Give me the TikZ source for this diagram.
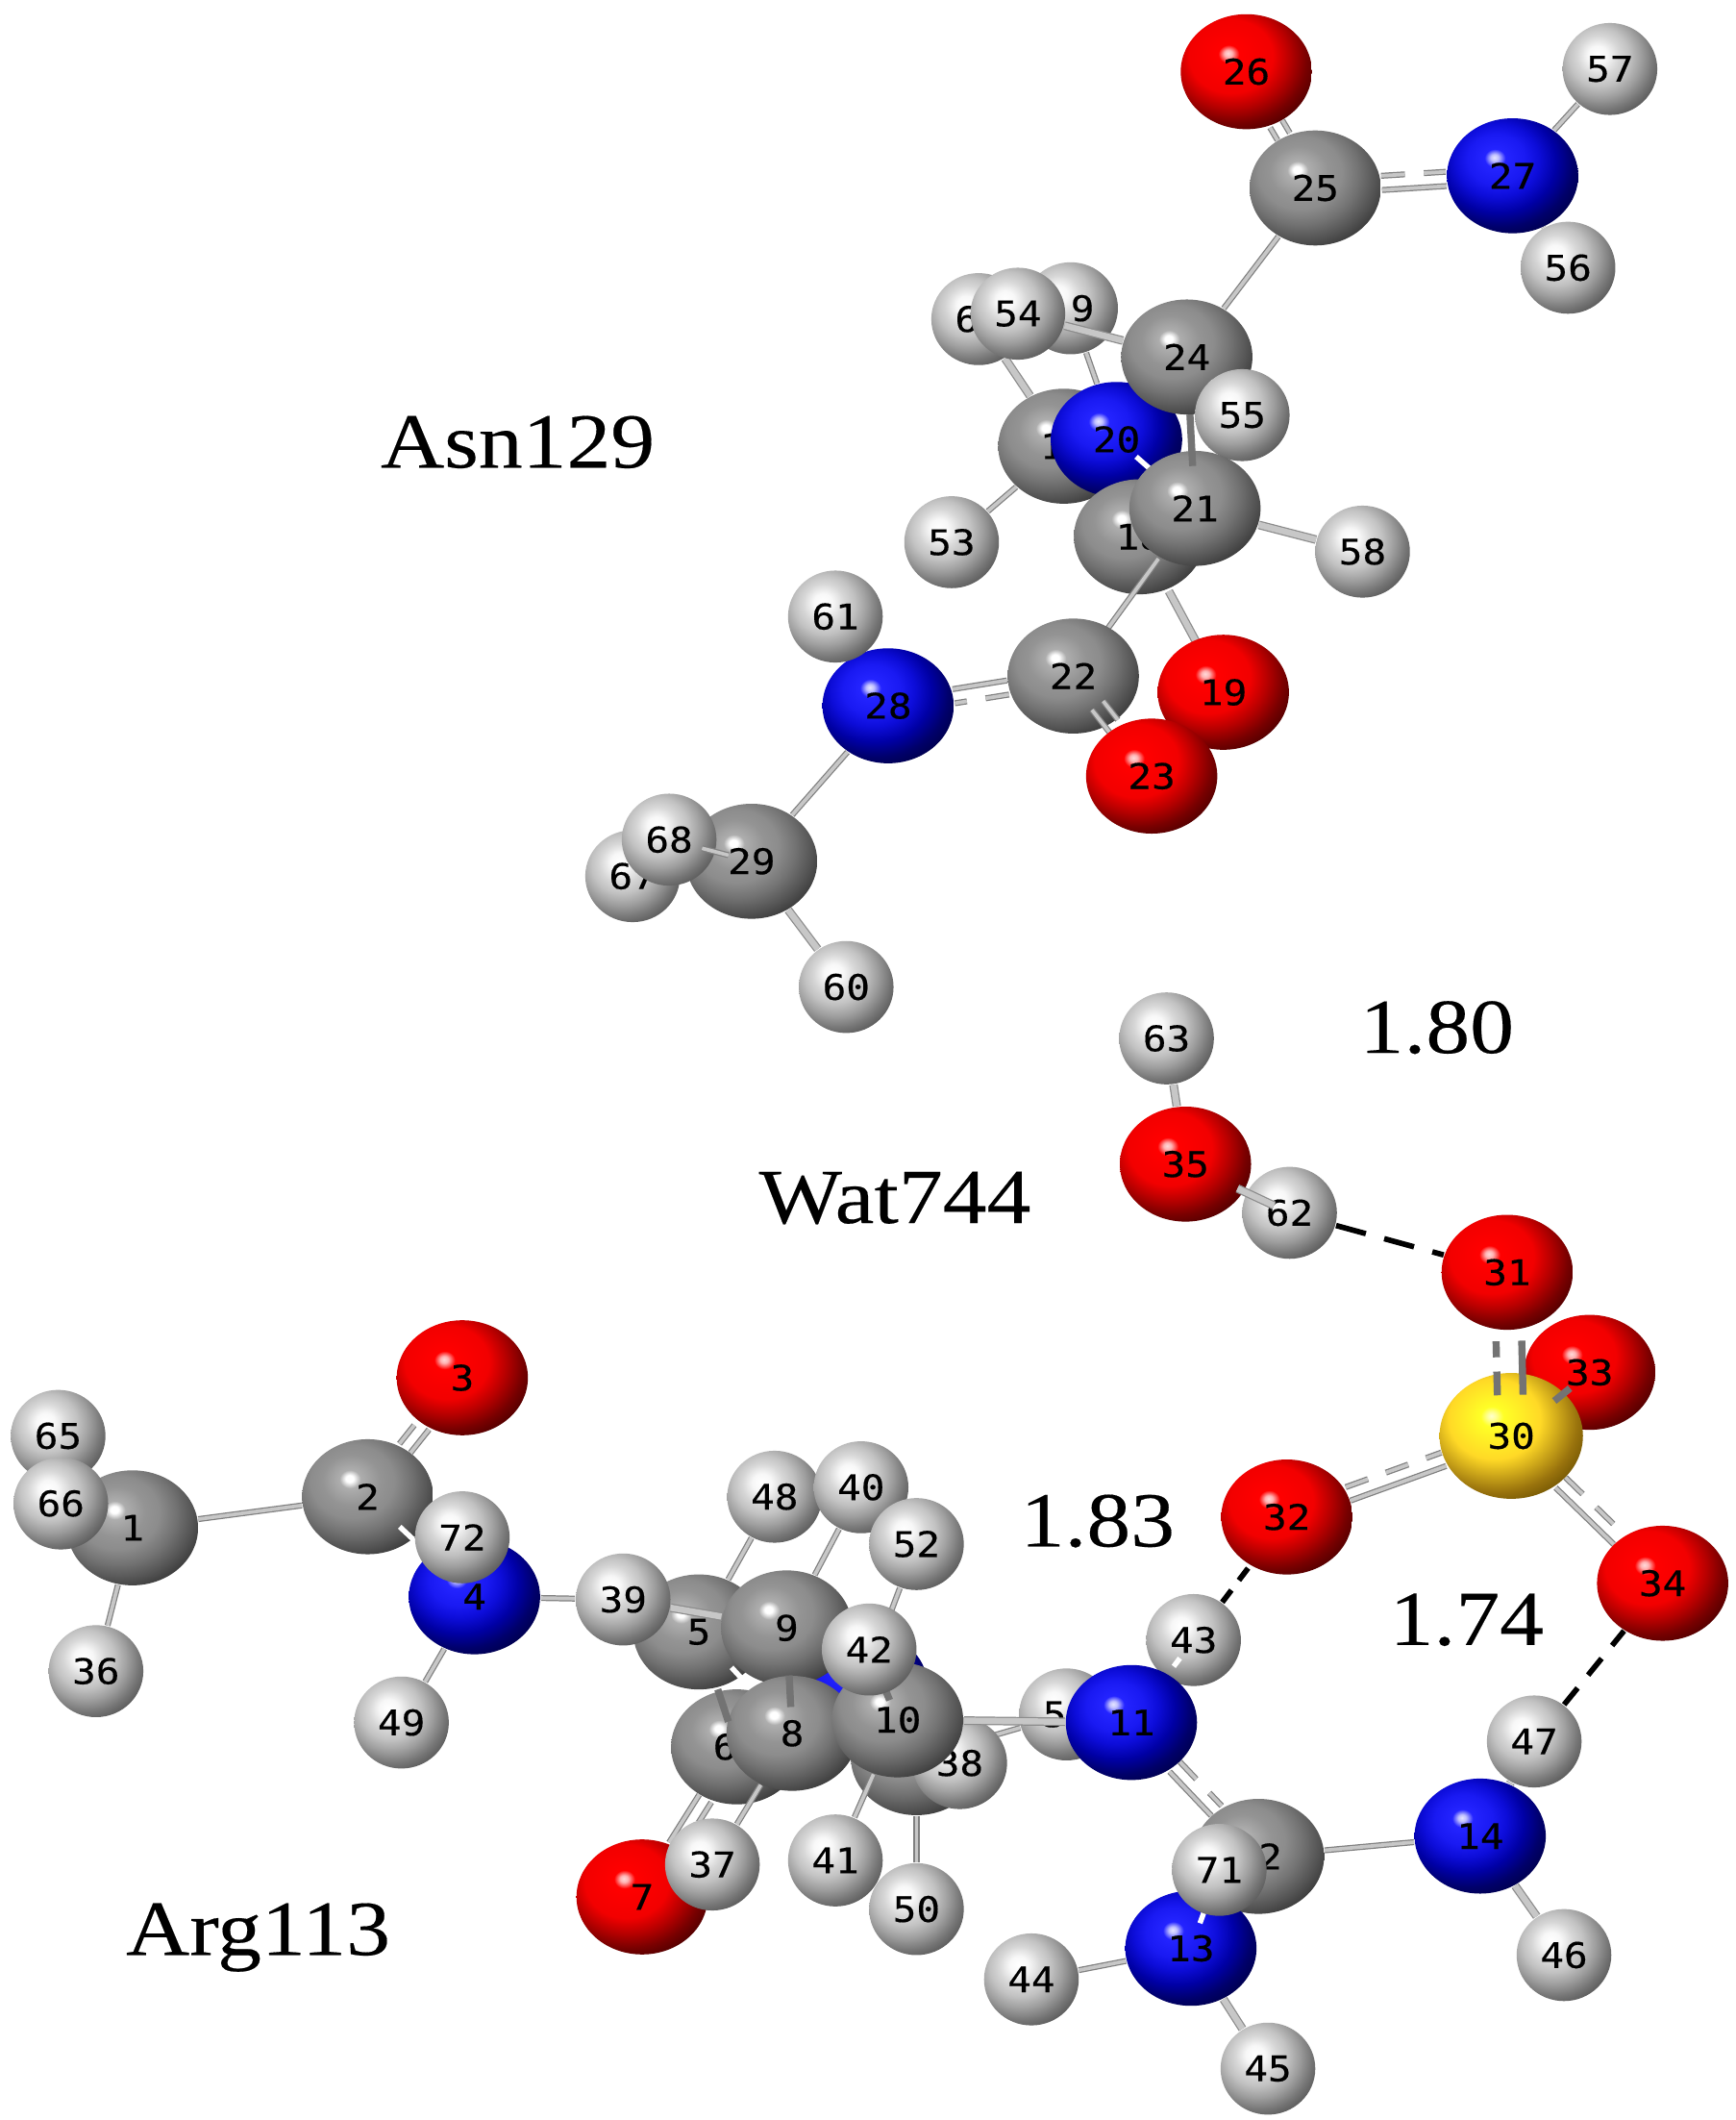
\documentclass[tikz,border=0pt]{standalone}
\usepackage{fontspec}
\usetikzlibrary{calc,shapes.geometric}
\newfontfamily\atomfont[FakeStretch=1.12,FakeBold=.35]{DejaVu Sans Mono}
\newfontfamily\capfont[FakeStretch=1.13,FakeBold=.2]{Liberation Serif}
\pgfdeclarelayer{bg}
\pgfdeclarelayer{l1}\pgfdeclarelayer{l2}\pgfdeclarelayer{l3}\pgfdeclarelayer{l4}\pgfdeclarelayer{l5}
\pgfdeclarelayer{l6}\pgfdeclarelayer{l7}\pgfdeclarelayer{l8}\pgfdeclarelayer{l9}\pgfdeclarelayer{l10}
\pgfsetlayers{bg,l1,l2,l3,l4,l5,l6,l7,l8,l9,l10,main}
\pgfdeclareradialshading{cball}{\pgfpoint{-7bp}{8bp}}{rgb(0bp)=(1,1,1);rgb(1.5bp)=(1,1,1);rgb(4bp)=(.68,.68,.68);rgb(11bp)=(.58,.58,.58);rgb(16bp)=(.55,.55,.55);rgb(22bp)=(.45,.45,.45);rgb(28bp)=(.33,.33,.33);rgb(35bp)=(.18,.18,.18);rgb(100bp)=(.18,.18,.18)}
\pgfdeclareradialshading{hball}{\pgfpoint{-7bp}{8bp}}{rgb(0bp)=(1,1,1);rgb(5bp)=(.97,.97,.97);rgb(11bp)=(.84,.84,.84);rgb(16bp)=(.76,.76,.76);rgb(22bp)=(.62,.62,.62);rgb(28bp)=(.46,.46,.46);rgb(35bp)=(.3,.3,.3);rgb(100bp)=(.3,.3,.3)}
\pgfdeclareradialshading{nball}{\pgfpoint{-7bp}{8bp}}{rgb(0bp)=(.9,.9,1);rgb(1.5bp)=(.75,.75,1);rgb(4bp)=(.14,.14,1);rgb(11bp)=(.1,.1,.95);rgb(16bp)=(.05,.05,.85);rgb(22bp)=(0,0,.65);rgb(28bp)=(0,0,.42);rgb(35bp)=(0,0,.25);rgb(100bp)=(0,0,.25)}
\pgfdeclareradialshading{oball}{\pgfpoint{-7bp}{8bp}}{rgb(0bp)=(1,.85,.85);rgb(1.5bp)=(1,.7,.7);rgb(4bp)=(1,0,0);rgb(16bp)=(.95,0,0);rgb(22bp)=(.72,0,0);rgb(28bp)=(.47,0,0);rgb(35bp)=(.25,0,0);rgb(100bp)=(.25,0,0)}
\pgfdeclareradialshading{sball}{\pgfpoint{-7bp}{8bp}}{rgb(0bp)=(1,1,.8);rgb(1.5bp)=(1,1,.6);rgb(4bp)=(1,1,.15);rgb(16bp)=(1,.85,.15);rgb(22bp)=(.8,.65,.1);rgb(28bp)=(.6,.45,.05);rgb(35bp)=(.4,.3,0);rgb(100bp)=(.4,.3,0)}
\tikzset{
  atomb/.style={ellipse,inner sep=0pt,font=\atomfont\fontsize{7.4}{8}\selectfont,text=black},
  catom/.style={atomb,shade,shading=cball,minimum width=.97cm,minimum height=.85cm},
  natom/.style={atomb,shade,shading=nball,minimum width=.97cm,minimum height=.85cm},
  oatom/.style={atomb,shade,shading=oball,minimum width=.97cm,minimum height=.85cm},
  satom/.style={atomb,shade,shading=sball,minimum width=1.06cm,minimum height=.93cm},
  hatom/.style={atomb,shade,shading=hball,minimum width=.70cm,minimum height=.68cm},
  bond/.style={draw=black!50,double=black!22,line width=.25pt,double distance=.75pt},
  thickbond/.style={draw=black!45,double=black!22,line width=.25pt,double distance=1.3pt},
  stub/.style={draw=white,line width=1.1pt},
  darkbond/.style={draw=black!55,line width=1.5pt},
  hbond/.style={draw=black,line width=1.15pt,dash pattern=on 6.5pt off 4pt},
  hbondmid/.style={hbond,dash pattern=on 4.5pt off 3.5pt},
  hbondshort/.style={hbond,dash pattern=on 3.2pt off 2.6pt},
  caption/.style={font=\capfont\fontsize{16.4}{18}\selectfont,text=black}
}
\newcommand\dA{1.3pt}
\newcommand\dB{1.7pt}
\newcommand\atom[6]{\begin{pgfonlayer}{l#1}\node[#5] (a#2) at (#3,#4) {#6};\end{pgfonlayer}}
\newcommand\lnk[4][bond]{\begin{pgfonlayer}{l#2}\draw[#1] (a#3) -- (a#4);\end{pgfonlayer}}
\newcommand\frag[6][bond]{\begin{pgfonlayer}{l#2}\draw[#1] ($(a#3.center)!#5!(a#4.center)$) -- ($(a#3.center)!#6!(a#4.center)$);\end{pgfonlayer}}
\newcommand\dlnk[3]{\begin{pgfonlayer}{l#1}\path (a#2) -- (a#3) coordinate[pos=0] (ts) coordinate[pos=1] (te);
  \draw[bond] ($(ts)!\dA!-90:(te)$) -- ($(te)!\dA!90:(ts)$);
  \draw[bond,dash pattern=on 5pt off 4pt] ($(ts)!\dB!90:(te)$) -- ($(te)!\dB!-90:(ts)$);\end{pgfonlayer}}
\newcommand\dfrag[6][bond]{\begin{pgfonlayer}{l#2}\coordinate (ts) at ($(a#3.center)!#5!(a#4.center)$);\coordinate (te) at ($(a#3.center)!#6!(a#4.center)$);
  \draw[#1] ($(ts)!\dA!-90:(te)$) -- ($(te)!\dA!90:(ts)$);
  \draw[#1,dash pattern=on 5pt off 3pt] ($(ts)!\dB!90:(te)$) -- ($(te)!\dB!-90:(ts)$);\end{pgfonlayer}}
\begin{document}
\begin{tikzpicture}[x=.01cm,y=-.01cm]
\useasboundingbox (0,0) rectangle (1284,1568);
\begin{pgfonlayer}{bg}\fill[white] (0,0) rectangle (1284,1568);\end{pgfonlayer}
% Asn129
\atom{9}{26}{922}{53}{oatom}{26}
\atom{9}{25}{973}{139}{catom}{25}
\atom{9}{27}{1119}{130}{natom}{27}
\atom{9}{57}{1191}{51}{hatom}{57}
\atom{9}{56}{1160}{198}{hatom}{56}
\atom{1}{59}{792}{228}{hatom}{\phantom{5}9}
\atom{1}{64}{724}{236}{hatom}{6\phantom{4}}
\atom{3}{54}{753}{232}{hatom}{54}
\atom{3}{17}{787}{330}{catom}{1\phantom{7}}
\atom{3}{53}{704}{401}{hatom}{53}
\atom{4}{20}{826}{325}{natom}{20}
\atom{5}{24}{878}{264}{catom}{24}
\atom{6}{55}{919}{307}{hatom}{55}
\atom{7}{18}{843}{397}{catom}{18}
\atom{8}{21}{884}{376}{catom}{21}
\atom{9}{58}{1008}{408}{hatom}{58}
\atom{9}{22}{794}{500}{catom}{22}
\atom{9}{19}{905}{512}{oatom}{19}
\atom{10}{23}{852}{574}{oatom}{23}
\atom{9}{28}{657}{522}{natom}{28}
\atom{9}{61}{618}{456}{hatom}{61}
\atom{9}{29}{556}{637}{catom}{29}
\atom{9}{67}{468}{648}{hatom}{67}
\atom{10}{68}{495}{621}{hatom}{68}
\atom{9}{60}{626}{730}{hatom}{60}
% water
\atom{5}{63}{863}{768}{hatom}{63}
\atom{6}{35}{877}{861}{oatom}{35}
\atom{7}{62}{954}{897}{hatom}{62}
% sulfate
\atom{5}{33}{1176}{1015}{oatom}{33}
\atom{6}{30}{1118}{1062}{satom}{30}
\atom{8}{31}{1115}{941}{oatom}{31}
\atom{7}{32}{952}{1122}{oatom}{32}
\atom{7}{34}{1230}{1171}{oatom}{34}
% Arg113 left
\atom{5}{1}{98}{1130}{catom}{1}
\atom{5}{65}{43}{1062}{hatom}{65}
\atom{7}{66}{45}{1112}{hatom}{66}
\atom{5}{36}{71}{1236}{hatom}{36}
\atom{6}{2}{272}{1107}{catom}{2}
\atom{6}{3}{342}{1019}{oatom}{3}
\atom{6}{4}{351}{1181}{natom}{4}
\atom{8}{72}{342}{1137}{hatom}{72}
\atom{6}{49}{297}{1274}{hatom}{49}
% Arg113 middle
\atom{2}{48}{573}{1107}{hatom}{48}
\atom{2}{40}{637}{1100}{hatom}{40}
\atom{2}{52}{678}{1142}{hatom}{52}
\atom{2}{5}{517}{1207}{catom}{5}
\atom{3}{15}{638}{1248}{natom}{}
\atom{4}{39}{461}{1183}{hatom}{39}
\atom{4}{9}{582}{1204}{catom}{9}
\atom{5}{6}{545}{1292}{catom}{6\phantom{0}}
\atom{6}{8}{586}{1282}{catom}{8}
\atom{5}{16}{678}{1300}{catom}{}
\atom{6}{38}{710}{1304}{hatom}{38}
\atom{6}{51}{789}{1268}{hatom}{5\phantom{1}}
\atom{8}{10}{664}{1272}{catom}{10}
\atom{9}{42}{643}{1220}{hatom}{42}
\atom{8}{11}{837}{1274}{natom}{11}
\atom{7}{43}{883}{1213}{hatom}{43}
\atom{7}{7}{475}{1403}{oatom}{7}
\atom{8}{37}{527}{1379}{hatom}{37}
\atom{8}{41}{618}{1376}{hatom}{41}
\atom{6}{50}{678}{1412}{hatom}{50}
% Arg113 right
\atom{7}{12}{931}{1373}{catom}{\phantom{1}2}
\atom{7}{13}{881}{1441}{natom}{13}
\atom{8}{71}{902}{1383}{hatom}{71}
\atom{7}{44}{763}{1464}{hatom}{44}
\atom{7}{45}{938}{1530}{hatom}{45}
\atom{7}{14}{1095}{1358}{natom}{14}
\atom{7}{46}{1157}{1446}{hatom}{46}
\atom{7}{47}{1135}{1288}{hatom}{47}
% bonds, Asn129
\dlnk{9}{25}{27}
\dlnk{9}{25}{26}
\lnk{9}{27}{57}
\lnk{9}{27}{56}
\lnk{9}{24}{25}
\lnk[thickbond]{2}{64}{17}
\lnk{2}{59}{20}
\lnk[thickbond]{2}{54}{24}
\lnk{2}{17}{53}
\frag[stub]{5}{24}{55}{.42}{.7}
\frag[darkbond]{8}{24}{21}{.38}{.72}
\frag[stub]{7}{20}{21}{.25}{.5}
\frag{8}{21}{22}{.3}{.72}
\frag[thickbond]{7}{18}{19}{.35}{.9}
\lnk[thickbond]{7}{21}{58}
\dfrag{9}{22}{23}{.3}{.7}
\dlnk{8}{22}{28}
\lnk{8}{28}{61}
\lnk{8}{28}{29}
\lnk[thickbond]{8}{29}{60}
\frag{10}{68}{29}{.4}{.72}
% water and sulfate
\lnk[thickbond]{5}{35}{63}
\frag[thickbond]{7}{35}{62}{.5}{.85}
\renewcommand\dA{2.7pt}\renewcommand\dB{2.7pt}
\dfrag[darkbond]{7}{30}{31}{.25}{.58}
\renewcommand\dA{1.3pt}\renewcommand\dB{1.7pt}
\dlnk{5}{32}{30}
\dlnk{5}{30}{34}
\frag[darkbond]{7}{30}{33}{.55}{.75}
\lnk[hbond]{9}{62}{31}
\lnk[hbondshort]{9}{43}{32}
\lnk[hbondmid]{9}{47}{34}
% bonds, Arg113
\lnk{4}{1}{65}
\lnk{5}{1}{36}
\lnk{5}{1}{2}
\dlnk{5}{2}{3}
\frag[stub]{7}{2}{4}{.3}{.55}
\lnk{5}{4}{49}
\lnk{3}{4}{39}
\lnk{1}{48}{5}
\lnk{1}{40}{9}
\lnk{1}{52}{15}
\lnk[thickbond]{3}{39}{9}
\frag[stub]{5}{5}{8}{.35}{.62}
\frag[darkbond]{6}{5}{6}{.5}{.78}
\frag[darkbond]{7}{9}{8}{.45}{.75}
\lnk[thickbond]{7}{10}{11}
\lnk{5}{16}{51}
\frag[darkbond]{8}{42}{10}{.55}{.72}
\lnk{7}{10}{41}
\lnk{5}{16}{50}
\lnk{7}{8}{37}
\dlnk{6}{6}{7}
\frag[stub]{8}{11}{43}{.68}{.78}
\dlnk{6}{11}{12}
\frag[stub]{7}{71}{13}{.55}{.68}
\lnk{6}{12}{14}
\lnk[thickbond]{6}{14}{47}
\lnk[thickbond]{6}{14}{46}
\lnk{6}{13}{44}
\lnk[thickbond]{6}{13}{45}
% captions
\node[caption] (asn) at (383,327) {Asn129};
\node[caption] (wat) at (662,886) {Wat744};
\node[caption] (arg) at (191,1433) {Arg113};
\node[caption] (d1) at (1063,760) {1.80};
\node[caption] (d2) at (812,1125) {1.83};
\node[caption] (d3) at (1085,1198) {1.74};
\end{tikzpicture}
\end{document}
